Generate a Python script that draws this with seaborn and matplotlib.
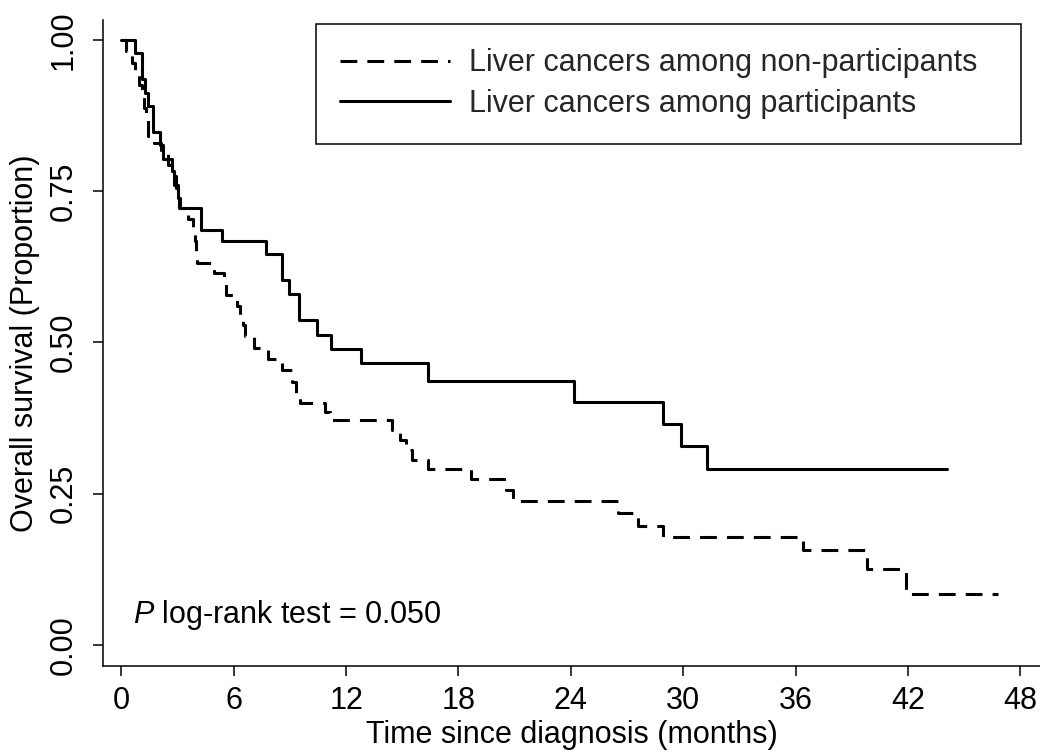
import pandas as pd
import seaborn as sns
from matplotlib import pyplot as plt

# Kaplan-Meier step values
nonpart_time = [0, 0.25, 0.55, 0.75, 0.95, 1.1, 1.2, 1.3, 1.4, 1.75,
                2.1, 2.5, 2.7, 2.9, 3.1, 3.55, 3.8, 3.95, 4.0, 4.05,
                4.95, 5.5, 5.6, 6.15, 6.35, 6.5, 6.6, 7.1, 7.85, 8.6,
                9.1, 9.3, 9.55, 10.9, 11.15, 14.45, 14.9, 15.2, 15.5, 16.35,
                18.65, 20.55, 20.9, 26.5, 27.6, 28.9, 36.4, 39.8, 41.9, 46.8]
nonpart_surv = [1.0, 0.981, 0.962, 0.944, 0.925, 0.906, 0.887, 0.868, 0.841, 0.83,
                0.812, 0.793, 0.775, 0.756, 0.722, 0.704, 0.685, 0.667, 0.648, 0.631,
                0.615, 0.597, 0.578, 0.56, 0.543, 0.528, 0.51, 0.491, 0.472, 0.454,
                0.435, 0.417, 0.40, 0.385, 0.371, 0.355, 0.339, 0.322, 0.306, 0.29,
                0.274, 0.256, 0.238, 0.218, 0.197, 0.179, 0.156, 0.125, 0.084, 0.084]

part_time = [0, 0.73, 1.09, 1.27, 1.44, 1.71, 2.07, 2.24, 2.69, 2.8,
             3.0, 3.13, 4.24, 5.38, 7.7, 8.56, 8.97, 9.5, 10.43, 11.18,
             12.8, 16.39, 24.17, 28.9, 29.9, 31.25, 44.1]
part_surv = [1.0, 0.978, 0.935, 0.913, 0.891, 0.848, 0.826, 0.804, 0.783, 0.761,
             0.739, 0.722, 0.686, 0.667, 0.646, 0.603, 0.58, 0.537, 0.512, 0.489,
             0.466, 0.436, 0.402, 0.365, 0.329, 0.291, 0.291]

x_ticks = [0, 6, 12, 18, 24, 30, 36, 42, 48]
y_ticks = [0.0, 0.25, 0.5, 0.75, 1.0]
y_ticklabels = ['0.00', '0.25', '0.50', '0.75', '1.00']

lab_nonpart = 'Liver cancers among non-participants'
lab_part = 'Liver cancers among participants'

df_non = pd.DataFrame({'time': nonpart_time, 'surv': nonpart_surv})
df_par = pd.DataFrame({'time': part_time, 'surv': part_surv})

sns.set_style('ticks')
plt.rcParams['font.family'] = ['Liberation Sans', 'DejaVu Sans']
plt.rcParams['mathtext.fontset'] = 'custom'
plt.rcParams['mathtext.rm'] = 'Liberation Sans'
plt.rcParams['mathtext.it'] = 'Liberation Sans:italic'

fig = plt.figure(figsize=(10.4, 7.55), dpi=100)
ax = fig.add_axes([103/1040, 1 - 666/755, 937/1040, 646/755])

sns.lineplot(data=df_non, x='time', y='surv', ax=ax, estimator=None,
             drawstyle='steps-post', color='black', lw=2.2,
             linestyle=(0, (5.5, 3.3)), label=lab_nonpart)
sns.lineplot(data=df_par, x='time', y='surv', ax=ax, estimator=None,
             drawstyle='steps-post', color='black', lw=2.2,
             linestyle='-', label=lab_part)

ax.set_xlim(-0.98, 49.05)
ax.set_ylim(-0.035, 1.033)
ax.set_xticks(x_ticks)
ax.set_yticks(y_ticks)
ax.set_yticklabels(y_ticklabels, rotation=90, va='center')
ax.tick_params(axis='both', direction='out', length=7.5, width=1.1,
               color='black', labelsize=22, labelcolor='black')
ax.tick_params(axis='x', pad=7)
ax.tick_params(axis='y', pad=10)

for side in ['top', 'right']:
    ax.spines[side].set_visible(False)
for side in ['left', 'bottom']:
    ax.spines[side].set_linewidth(1.1)
    ax.spines[side].set_color('black')

ax.set_xlabel('Time since diagnosis (months)', fontsize=22, color='black')
ax.set_ylabel('Overall survival (Proportion)', fontsize=22, color='black')
ax.xaxis.set_label_coords(0.5, -0.084)
ax.yaxis.set_label_coords(-0.067, 0.5)

ax.text(0.62, 0.05, r'$P$ log-rank test = 0.050', fontsize=22,
        ha='left', va='center', color='black')

# legend box: top edge ~24 px from the top, spans x 316..1021
leg = ax.legend(loc='upper left',
                bbox_to_anchor=(316/1040, 1 - 24/755 - 0.01, (1021 - 316)/1040, 0.01),
                bbox_transform=fig.transFigure, mode='expand',
                fontsize=22, frameon=True, fancybox=False, framealpha=1,
                edgecolor='black', handlelength=3.6, handletextpad=0.6,
                borderpad=0.8, labelspacing=0.35, borderaxespad=0)
leg.get_frame().set_linewidth(1.1)

fig.savefig('out.png', dpi=100)
